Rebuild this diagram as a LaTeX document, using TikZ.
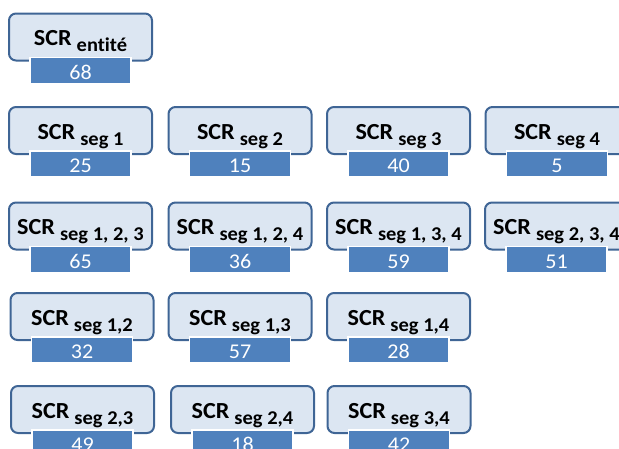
\documentclass[tikz,border=0pt]{standalone}
\usepackage{fontspec}
\setmainfont[FakeStretch=1.05, Ligatures=NoCommon]{Carlito}
\usetikzlibrary{positioning}
\definecolor{boxfill}{HTML}{DCE6F2}
\definecolor{boxline}{HTML}{3F6595}
\definecolor{barfill}{HTML}{4F81BD}
\newcommand{\scrlab}[1]{SCR\hspace{5pt}\raisebox{-6pt}{\fontsize{19.5}{20}\selectfont #1}}

\begin{document}
\begin{tikzpicture}[x=1pt, y=-1pt,
  scrbox/.style={draw=boxline, fill=boxfill, line width=2pt, rounded corners=7pt, minimum width=143pt, inner sep=0pt, text height=32pt, text depth=15pt, font=\fontsize{23}{24}\selectfont\bfseries},
  valbar/.style={draw=white, fill=barfill, line width=1.5pt, minimum width=101pt, inner sep=0pt, text height=22pt, text depth=4pt, text=white, font=\fontsize{21}{22}\selectfont, below=-5pt of #1}]
\useasboundingbox (0,0) rectangle (619,448);
\clip (0,0) rectangle (619,448);
\node[scrbox] (ent) at (80.5,37) {\scrlab{entité}};
\node[valbar=ent] (ventity) {68};
\node[scrbox] (s1) at (80.5,130.5) {\scrlab{seg 1}};
\node[valbar=s1] (v1) {25};
\node[scrbox] (s2) at (240,130.5) {\scrlab{seg 2}};
\node[valbar=s2] (v2) {15};
\node[scrbox] (s3) at (398.5,130.5) {\scrlab{seg 3}};
\node[valbar=s3] (v3) {40};
\node[scrbox] (s4) at (557,130.5) {\scrlab{seg 4}};
\node[valbar=s4] (v4) {5};
\node[scrbox] (s123) at (80.5,226) {\scrlab{seg 1, 2, 3}};
\node[valbar=s123] (v123) {65};
\node[scrbox] (s124) at (240,226) {\scrlab{seg 1, 2, 4}};
\node[valbar=s124] (v124) {36};
\node[scrbox] (s134) at (398.5,226) {\scrlab{seg 1, 3, 4}};
\node[valbar=s134] (v134) {59};
\node[scrbox] (s234) at (556.5,226) {\scrlab{seg 2, 3, 4}};
\node[valbar=s234] (v234) {51};
\node[scrbox] (s12) at (82,316.5) {\scrlab{seg 1,2}};
\node[valbar=s12] (v12) {32};
\node[scrbox] (s13) at (240,316.5) {\scrlab{seg 1,3}};
\node[valbar=s13] (v13) {57};
\node[scrbox] (s14) at (398.5,316.5) {\scrlab{seg 1,4}};
\node[valbar=s14] (v14) {28};
\node[scrbox] (s23) at (82.5,409.5) {\scrlab{seg 2,3}};
\node[valbar=s23] (v23) {49};
\node[scrbox] (s24) at (242.5,409.5) {\scrlab{seg 2,4}};
\node[valbar=s24] (v24) {18};
\node[scrbox] (s34) at (399,409.5) {\scrlab{seg 3,4}};
\node[valbar=s34] (v34) {42};
\end{tikzpicture}
\end{document}
